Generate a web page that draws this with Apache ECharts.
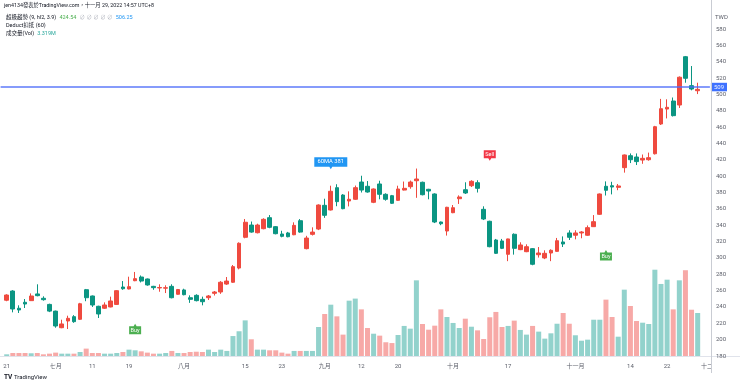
<!DOCTYPE html>
<html><head><meta charset="utf-8">
<script src="https://cdn.jsdelivr.net/npm/echarts@6/dist/echarts.min.js"></script>
<style>html,body{margin:0;padding:0;background:#fff}#c{width:740px;height:385px}</style>
</head><body><div id="c"></div>
<script>
// ---------- DATA ----------
const emptyBefore = ['06-20'];
const emptyAfter = ['11-30', '12-01'];
const tradeDates = [
'06-21','06-22','06-23','06-24','06-27','06-28','06-29','06-30',
'07-01','07-04','07-05','07-06','07-07','07-08','07-11','07-12','07-13','07-14','07-15','07-18','07-19','07-20','07-21','07-22','07-25','07-26','07-27','07-28','07-29',
'08-01','08-02','08-03','08-04','08-05','08-08','08-09','08-10','08-11','08-12','08-15','08-16','08-17','08-18','08-19','08-22','08-23','08-24','08-25','08-26','08-29','08-30','08-31',
'09-01','09-02','09-05','09-06','09-07','09-08','09-12','09-13','09-14','09-15','09-16','09-19','09-20','09-21','09-22','09-23','09-26','09-27','09-28','09-29','09-30',
'10-03','10-04','10-05','10-06','10-07','10-11','10-12','10-13','10-14','10-17','10-18','10-19','10-20','10-21','10-24','10-25','10-26','10-27','10-28','10-31',
'11-01','11-02','11-03','11-04','11-07','11-08','11-09','11-10','11-11','11-14','11-15','11-16','11-17','11-18','11-21','11-22','11-23','11-24','11-25','11-28','11-29'
];
const opens = [
248.2,259.5,238.4,245.7,247.7,255.9,250.6,243.1,234.9,214.6,
222.8,228.1,224.9,261.1,253.4,240.8,238.4,240.0,243.1,264.4,
262.0,272.1,276.6,274.2,265.2,263.2,263.0,265.2,255.5,260.8,
251.3,254.2,249.3,251.3,256.7,258.3,268.0,270.2,287.6,325.2,
340.2,330.8,335.7,349.2,338.2,329.2,330.5,328.3,345.5,311.3,
328.8,335.3,364.3,358.6,385.9,376.9,369.6,371.7,392.8,387.6,
368.0,390.4,377.8,376.1,370.4,383.0,387.1,394.4,392.5,383.9,
378.2,343.9,332.9,355.3,372.4,383.4,388.3,392.0,359.4,344.8,
321.9,320.7,304.4,328.9,310.1,307.6,311.3,303.9,299.9,306.0,
308.0,319.5,330.5,327.7,330.5,327.7,338.2,353.3,387.6,388.3,
386.3,410.4,425.0,423.4,419.7,420.1,427.4,463.8,482.1,491.9,
487.0,546.1,510.7,504.5];
const highs = [
255.5,260.5,242.0,249.7,256.6,267.7,253.0,244.0,235.5,224.4,
229.3,230.0,245.0,262.0,254.0,241.5,245.6,252.6,260.5,271.7,
277.0,282.8,278.5,274.8,265.8,267.7,266.5,267.7,262.0,262.3,
254.2,255.5,252.6,254.6,259.5,271.6,276.6,291.3,319.0,347.6,
344.5,341.8,348.5,352.4,339.0,333.2,331.8,343.5,347.5,327.0,
337.4,365.5,372.4,388.3,390.1,378.0,381.4,388.5,400.5,394.0,
385.0,394.4,379.0,377.0,388.3,393.4,394.6,409.3,393.3,384.5,
379.0,344.4,362.5,364.7,376.5,392.5,395.0,395.0,363.1,345.5,
323.2,323.2,323.5,330.0,319.1,316.6,312.0,313.3,309.3,310.5,
324.4,326.3,333.8,333.8,332.8,339.7,352.4,378.8,393.6,393.1,
390.4,426.5,427.8,427.8,426.5,428.8,461.5,494.5,494.0,496.2,
522.0,547.0,534.7,514.3];
const lows = [
247.0,233.4,232.6,238.7,247.3,253.0,247.7,233.7,214.6,214.0,
213.0,220.6,224.0,247.0,240.0,226.5,237.5,239.5,242.5,261.0,
261.5,271.5,270.0,266.0,261.0,258.6,257.0,250.5,255.0,254.2,
245.0,246.8,242.0,248.5,254.0,256.0,267.0,269.5,286.0,324.0,
330.8,330.0,335.0,336.3,328.8,325.2,325.2,327.8,330.8,310.5,
327.4,334.0,349.0,358.0,363.2,359.5,363.0,371.0,380.0,379.8,
367.0,371.7,370.0,366.0,369.8,382.5,384.6,373.5,376.5,371.7,
342.6,340.0,327.3,354.7,366.0,378.2,386.7,380.0,346.3,313.0,
304.8,310.8,296.0,304.0,309.5,307.0,291.0,300.4,298.5,296.0,
307.5,313.3,321.9,322.7,324.0,327.0,337.8,352.5,376.3,377.7,
382.8,404.3,416.0,413.6,415.1,418.9,426.5,462.6,470.6,473.0,
483.4,514.3,505.0,500.4];
const closes = [
254.6,237.5,236.3,243.6,253.4,253.8,248.9,234.9,216.7,219.2,
226.1,222.0,243.9,251.3,242.4,231.4,242.4,247.3,259.9,262.3,
264.8,274.6,271.7,266.9,263.6,263.8,263.5,251.3,261.3,255.0,
249.3,247.7,246.4,253.4,258.3,270.2,271.7,289.3,317.9,343.6,
331.6,340.2,347.2,337.4,329.6,326.4,325.9,339.8,331.6,324.3,
331.6,364.7,352.1,381.5,368.8,360.2,371.7,385.9,383.0,380.6,
384.3,377.8,371.7,366.8,384.3,385.1,392.8,396.5,377.3,381.8,
343.9,341.8,361.9,361.4,374.5,379.4,393.7,385.1,347.6,313.7,
305.6,311.7,323.2,311.7,315.8,313.7,292.2,306.0,305.6,309.3,
321.0,317.0,325.2,330.5,331.7,337.0,344.3,378.2,382.7,386.7,
388.0,425.9,420.1,417.8,421.8,422.6,460.5,482.5,484.2,474.0,
521.0,519.7,506.6,506.2];
// volume in millions of shares
const volumes = [
0.13,0.23,0.23,0.23,0.21,0.23,0.13,0.18,0.26,0.18,
0.18,0.18,0.31,0.57,0.23,0.23,0.18,0.18,0.23,0.31,
0.49,0.44,0.36,0.26,0.18,0.18,0.23,0.39,0.23,0.23,
0.31,0.33,0.31,0.49,0.31,0.49,0.39,1.54,1.91,2.75,
1.29,0.49,0.49,0.44,0.44,0.26,0.18,0.39,0.39,0.39,
0.39,2.24,3.24,3.96,3.06,1.65,4.27,4.43,3.60,2.16,
1.72,1.57,1.06,1.00,1.62,2.32,2.11,5.84,2.47,2.03,
2.34,3.60,3.01,2.55,2.16,2.88,2.26,1.98,1.31,2.99,
3.40,2.24,2.32,2.73,2.01,1.65,2.32,1.88,1.34,1.75,
2.49,3.32,2.49,1.60,1.18,1.26,2.80,2.80,4.35,3.01,
1.49,5.12,3.86,2.70,2.57,2.47,6.66,5.56,5.89,3.60,
5.84,6.62,3.57,3.319];
const tickDates = ['06-21','07-01','07-11','07-19','08-01','08-15','08-23','09-01','09-12','09-20','10-03','10-17','11-01','11-14','11-22','12-01'];
const tickTexts = ['21','七月','11','19','八月','15','23','九月','12','20','十月','17','十一月','14','22','十二月'];
const signalDates = ['07-20','09-02','10-12','11-08'];
const signalPrices = [219.5, 408.4, 418.9, 309.7];
const signalTexts = ['Buy','60MA 381','Sell','Buy'];
const signalKinds = ['buy','ma','sell','buy'];
const hLinePrice = 509;
const priceMin = 180, priceMax = 600, priceStep = 20;
const volMax = 26.5;
const headerText = 'jen4134發表於TradingView.com，十一月 29, 2022 14:57 UTC+8';
const legendSuper = ['超級趨勢 (9, hl2, 3.9)', '424.54', '∅ ∅ ∅ ∅ ∅', '506.25'];
const legendDeduct = ['Deduct扣抵 (60)'];
const legendVol = ['成交量(Vol)', '3.319M'];

// ---------- STYLE ----------
const UP = '#ef4a3f', DOWN = '#0b9582';
const VOL_UP = 'rgba(38,166,154,0.5)', VOL_DOWN = 'rgba(239,83,80,0.5)';
const FONT = 'Roboto, "Noto Sans CJK TC", "DejaVu Sans", sans-serif';
const TXT = '#131722', AX = '#5d606b', BORDER = '#c9ccd3';
const SIG = {
  buy:  {color:'#4caf50', up:true,  w:12, h:8,   p:2.5, fs:5.5},
  sell: {color:'#f23645', up:false, w:12, h:8,   p:2.5, fs:5.5},
  ma:   {color:'#2196f3', up:false, w:33, h:9.5, p:2.6, fs:5.8}
};
function sigPath(s){
  const c = s.w/2, a = 1.5;
  if (s.up) return 'path://M0,'+s.p+'H'+(c-a)+'L'+c+',0L'+(c+a)+','+s.p+'H'+s.w+'V'+(s.p+s.h)+'H0Z';
  return 'path://M0,0H'+s.w+'V'+s.h+'H'+(c+a)+'L'+c+','+(s.h+s.p)+'L'+(c-a)+','+s.h+'H0Z';
}
// lay out coloured legend segments on one line
const mctx = document.createElement('canvas').getContext('2d');
function legendLine(texts, colors, x0, yMid, fs, gap){
  mctx.font = fs + 'px ' + FONT;
  let x = x0; const out = [];
  texts.forEach((t,i)=>{
    out.push({type:'text', x:x, y:yMid, z:60, silent:true,
      style:{text:t, fontSize:fs, fontFamily:FONT, fill:colors[i], align:'left', verticalAlign:'middle'}});
    x += mctx.measureText(t).width + gap;
  });
  return out;
}

const cats = emptyBefore.concat(tradeDates, emptyAfter);
const padArr = (arr, blank) => emptyBefore.map(()=>blank).concat(arr, emptyAfter.map(()=>blank));
const candleData = padArr(tradeDates.map((d,i)=>[opens[i],closes[i],lows[i],highs[i]]), ['-','-','-','-']);
const volData = padArr(tradeDates.map((d,i)=>({value:volumes[i], itemStyle:{color: closes[i]>=opens[i]?VOL_UP:VOL_DOWN}})), '-');

const markData = signalDates.map((d,i)=>{
  const s = SIG[signalKinds[i]], tot = s.h + s.p;
  return {
    coord:[d, signalPrices[i]],
    symbol: sigPath(s), symbolSize:[s.w, tot], symbolKeepAspect:false,
    symbolOffset:[0, s.up ? tot/2 : -tot/2],
    itemStyle:{color:s.color},
    label:{show:true, position:'inside', formatter:signalTexts[i], color:'#fff', fontSize:s.fs, fontFamily:FONT,
           offset:[0, s.up ? s.p/2 : -s.p/2]}
  };
});

const graphics = [
  {type:'line', shape:{x1:711.5,y1:0,x2:711.5,y2:373}, style:{stroke:BORDER, lineWidth:1}, z:50, silent:true},
  {type:'line', shape:{x1:0,y1:356.5,x2:740,y2:356.5}, style:{stroke:'#e0e3eb', lineWidth:1}, z:0, silent:true},
  {type:'rect', shape:{x:712,y:359,width:28,height:14}, style:{fill:'#fff'}, z:40, silent:true},
  {type:'text', x:715, y:17, z:60, style:{text:'TWD', fontSize:6, fill:AX, fontFamily:FONT, verticalAlign:'middle'}},
  {type:'text', x:4, y:6, z:60, style:{text:headerText, fontSize:5.3, fill:TXT, fontFamily:FONT, verticalAlign:'middle'}},
  {type:'text', x:4, y:377.5, z:60, style:{text:'TV', fontSize:6.5, fontWeight:'bold', fill:TXT, fontFamily:FONT, verticalAlign:'middle'}},
  {type:'text', x:14, y:377.5, z:60, style:{text:'TradingView', fontSize:6, fill:TXT, fontFamily:FONT, verticalAlign:'middle'}}
].concat(
  legendLine(legendSuper, [TXT,'#4caf50','#b2b5be','#2196f3'], 6, 17.5, 5.5, 3.2),
  legendLine(legendDeduct, [TXT], 6, 25.5, 5.5, 3),
  legendLine(legendVol, [TXT,'#26a69a'], 6, 33.5, 5.5, 3)
);

const chart = echarts.init(document.getElementById('c'), null, {renderer:'canvas'});
chart.setOption({
  animation:false,
  backgroundColor:'#ffffff',
  grid:{left:0.6, right:30.1, top:12.65, bottom:29, containLabel:false},
  xAxis:{
    type:'category', data:cats, boundaryGap:false,
    axisLine:{show:false}, axisTick:{show:false}, splitLine:{show:false},
    axisLabel:{
      interval:(idx,val)=>tickDates.indexOf(val)>=0,
      formatter:(val)=>tickTexts[tickDates.indexOf(val)],
      fontSize:6, color:AX, margin:7, fontFamily:FONT, hideOverlap:false
    }
  },
  yAxis:[
    {type:'value', position:'right', min:priceMin, max:priceMax, interval:priceStep, scale:true,
     axisLine:{show:false}, axisTick:{show:false}, splitLine:{show:false},
     axisLabel:{fontSize:6, color:AX, margin:6, fontFamily:FONT, showMaxLabel:false, showMinLabel:true}},
    {type:'value', min:0, max:volMax, show:false, splitLine:{show:false}}
  ],
  series:[
    {type:'bar', name:'Vol', yAxisIndex:1, data:volData, barWidth:5, z:1, silent:true},
    {type:'candlestick', name:'K', data:candleData, barWidth:4.2, z:3,
     itemStyle:{color:UP, color0:DOWN, borderColor:UP, borderColor0:DOWN, borderWidth:1},
     markPoint:{data:markData, silent:true, animation:false},
     markLine:{silent:true, symbol:['none','none'], animation:false,
       lineStyle:{color:'#4d6cfa', width:1.6, type:'solid', opacity:0.9},
       label:{position:'end', formatter:String(hLinePrice), color:'#fff', backgroundColor:'#2962ff',
              fontSize:6, padding:[1.5,3,1,3], distance:1, fontFamily:FONT},
       data:[{yAxis:hLinePrice}]}
    }
  ],
  graphic:graphics
});
</script>
</body></html>
